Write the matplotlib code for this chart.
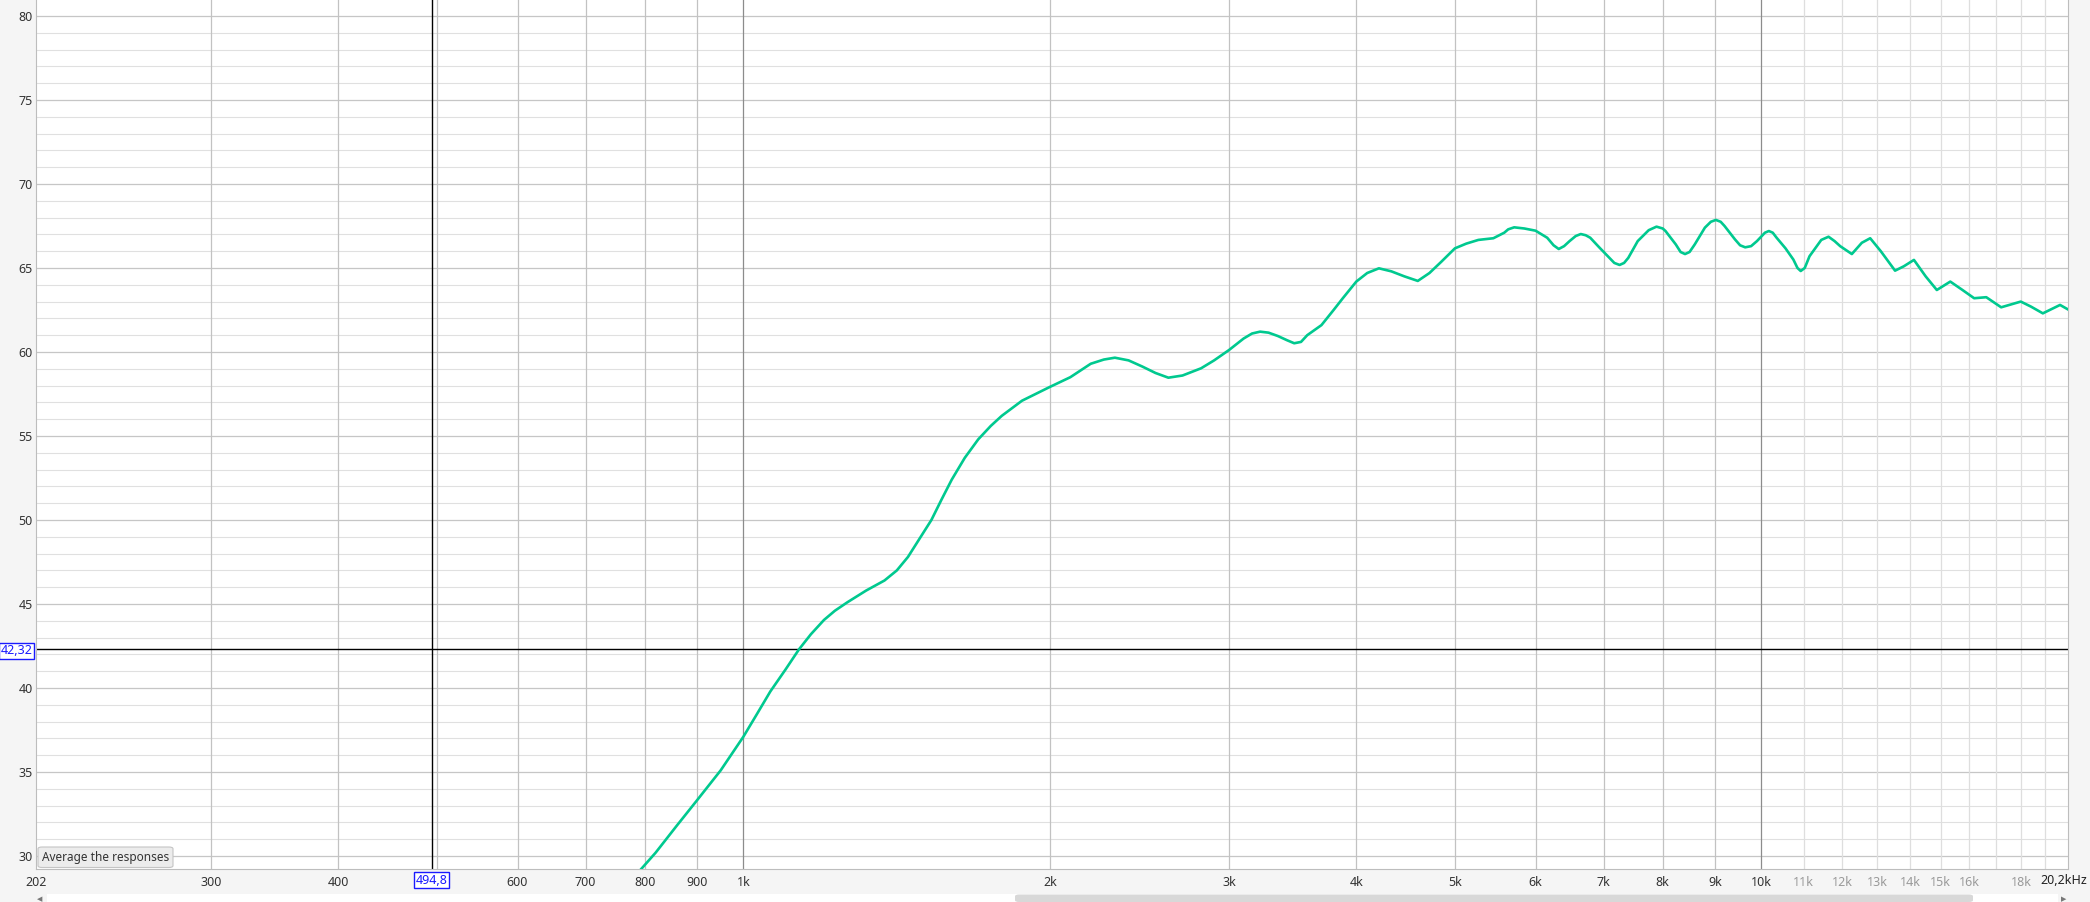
import numpy as np
import matplotlib
matplotlib.use('Agg')
import matplotlib.pyplot as plt
from matplotlib.patches import Rectangle, FancyBboxPatch

plt.rcParams['font.family'] = ['Noto Sans', 'DejaVu Sans']

# measured response (Hz, dB)
freq = [785, 820, 860, 900, 950, 1000, 1030, 1063, 1100, 1134, 1165, 1200, 1230, 1265,
        1320, 1376, 1415, 1451, 1490, 1530, 1565, 1602, 1650, 1701, 1750, 1794, 1878,
        1997, 2095, 2194, 2260, 2317, 2390, 2466, 2540, 2615, 2700, 2816, 2900, 3000, 3100,
        3160, 3218, 3280, 3350, 3420, 3476, 3530, 3580, 3697, 3800, 3880, 4000, 4100, 4210,
        4330, 4460, 4597, 4720, 4848, 5000, 5130, 5272, 5454, 5590, 5640, 5717, 5800, 5850,
        6000, 6160, 6250, 6323, 6400, 6480, 6570, 6646, 6720, 6790, 6929, 7090, 7170, 7256,
        7330, 7400, 7560, 7750, 7888, 8000, 8050, 8240, 8330, 8414, 8500, 8600, 8800, 8920,
        9021, 9120, 9200, 9420, 9530, 9640, 9770, 9900, 10080, 10170, 10260, 10350, 10560,
        10750, 10850, 10930, 11030, 11150, 11450, 11640, 11800, 11950, 12270, 12550, 12790,
        13100, 13530, 13800, 14120, 14500, 14870, 15330, 15750, 16180, 16630, 17200, 17980,
        18400, 18900, 19650, 20050]
spl = [28.9, 30.2, 31.8, 33.3, 35.1, 37.1, 38.4, 39.8, 41.1, 42.3, 43.2, 44.05, 44.6, 45.1,
       45.8, 46.4, 47.0, 47.8, 48.9, 50.0, 51.2, 52.4, 53.7, 54.8, 55.6, 56.2, 57.1,
       57.9, 58.5, 59.3, 59.55, 59.66, 59.5, 59.13, 58.75, 58.47, 58.6, 59.03, 59.5, 60.12, 60.8,
       61.1, 61.21, 61.15, 60.95, 60.7, 60.52, 60.6, 61.0, 61.6, 62.5, 63.2, 64.19, 64.7, 64.98,
       64.8, 64.5, 64.23, 64.7, 65.37, 66.17, 66.45, 66.67, 66.77, 67.1, 67.3, 67.42, 67.38, 67.35,
       67.22, 66.8, 66.35, 66.13, 66.3, 66.6, 66.9, 67.02, 66.95, 66.8, 66.23, 65.6, 65.3, 65.18,
       65.3, 65.6, 66.6, 67.25, 67.46, 67.35, 67.2, 66.4, 65.95, 65.83, 65.95, 66.4, 67.4, 67.75,
       67.86, 67.75, 67.5, 66.7, 66.35, 66.23, 66.3, 66.6, 67.1, 67.2, 67.1, 66.8, 66.17,
       65.5, 65.0, 64.82, 65.0, 65.7, 66.67, 66.86, 66.6, 66.3, 65.83, 66.5, 66.77,
       66.0, 64.84, 65.1, 65.48, 64.5, 63.69, 64.19, 63.7, 63.2, 63.26, 62.66, 63.0,
       62.7, 62.3, 62.8, 62.5]

x_ticks = [202, 300, 400, 600, 700, 800, 900, 1000, 2000, 3000, 4000, 5000, 6000, 7000,
           8000, 9000, 10000, 11000, 12000, 13000, 14000, 15000, 16000, 18000]
x_labels = ['202', '300', '400', '600', '700', '800', '900', '1k', '2k', '3k', '4k', '5k',
            '6k', '7k', '8k', '9k', '10k', '11k', '12k', '13k', '14k', '15k', '16k', '18k']
y_ticks = [30, 35, 40, 45, 50, 55, 60, 65, 70, 75, 80]

grid_mid = [300, 400, 500, 600, 700, 800, 900, 2000, 3000, 4000, 5000, 6000, 7000, 8000, 9000]
grid_dark = [1000, 10000]
grid_light = [11000, 12000, 13000, 14000, 15000, 16000, 17000, 18000, 19000]

cursor_f = 494.8
cursor_db = 42.32

W, H = 2090, 902
fig = plt.figure(figsize=(W / 100, H / 100), dpi=100, facecolor='#f5f5f5')
ax = fig.add_axes([36.2 / W, 1 - 869.3 / H, (2068.3 - 36.2) / W, 869.3 / H])
ax.set_facecolor('white')
ax.set_xscale('log')
ax.set_xlim(202, 20020)
ax.set_ylim(29.21, 80.95)

for v in range(30, 81):
    if v % 5 == 0:
        ax.axhline(v, color='#c6c6c6', lw=0.9, zorder=1)
    else:
        ax.axhline(v, color='#e0e0e0', lw=0.8, zorder=0.5)
for f in grid_mid:
    ax.axvline(f, color='#c2c2c2', lw=0.9, zorder=1)
for f in grid_dark:
    ax.axvline(f, color='#8c8c8c', lw=0.9, zorder=1)
for f in grid_light:
    ax.axvline(f, color='#dedede', lw=0.9, zorder=1)

# cursor
ax.axvline(cursor_f, color='black', lw=1.0, zorder=2)
ax.axhline(cursor_db, color='black', lw=1.0, zorder=2)

ax.plot(freq, spl, color='#00c98f', lw=1.9, zorder=3, solid_joinstyle='round')

ax.minorticks_off()
ax.set_xticks(x_ticks, x_labels)
ax.set_yticks(y_ticks, [str(v) for v in y_ticks])
ax.tick_params(length=0, labelsize=9, labelcolor='#333333')
ax.tick_params(axis='x', pad=5)
ax.tick_params(axis='y', pad=2.5)
for lab in ax.get_xticklabels():
    if lab.get_text() in ['11k', '12k', '13k', '14k', '15k', '16k', '18k']:
        lab.set_color('#9a9a9a')

for s in ['left', 'bottom', 'right']:
    ax.spines[s].set_color('#bdbdbd')
ax.spines['top'].set_visible(False)

fig.text(2087 / W, 1 - 880 / H, '20,2kHz', ha='right', va='center', fontsize=9, color='#222222')

# cursor readouts
box = dict(boxstyle='square,pad=0.12', facecolor='white', edgecolor='#1a1aff', lw=1)
fig.text(431.5 / W, 1 - 880 / H, f'{cursor_f:.1f}'.replace('.', ','), ha='center', va='center',
         fontsize=9, color='#1a1aff', bbox=box)
fig.text(16.5 / W, 1 - 650.5 / H, f'{cursor_db:.2f}'.replace('.', ','), ha='center', va='center',
         fontsize=9, color='#1a1aff', bbox=box)

# button
fig.patches.append(FancyBboxPatch((38 / W, 1 - 867.5 / H), 135 / W, 20.5 / H,
                                  boxstyle='round,pad=0,rounding_size=0.002',
                                  transform=fig.transFigure, facecolor='#ececec',
                                  edgecolor='#c4c4c4', lw=0.8, zorder=5))
fig.text(105.5 / W, 1 - 857.5 / H, 'Average the responses', ha='center', va='center',
         fontsize=8.5, color='#333333', zorder=6)

# scrollbar
fig.patches.append(Rectangle((47 / W, 0), (2058 - 47) / W, 8 / H, transform=fig.transFigure,
                             facecolor='white', edgecolor='none'))
fig.patches.append(FancyBboxPatch((1015 / W, 0), (1973 - 1015) / W, 7.5 / H,
                                  boxstyle='round,pad=0,rounding_size=0.002',
                                  transform=fig.transFigure, facecolor='#d8d8d8', edgecolor='none'))
fig.text(40 / W, 3 / H, '◀', ha='center', va='center', fontsize=5, color='#777777',
         family='DejaVu Sans')
fig.text(2064 / W, 3 / H, '▶', ha='center', va='center', fontsize=5, color='#777777',
         family='DejaVu Sans')

fig.savefig('out.png', dpi=100, facecolor=fig.get_facecolor())
